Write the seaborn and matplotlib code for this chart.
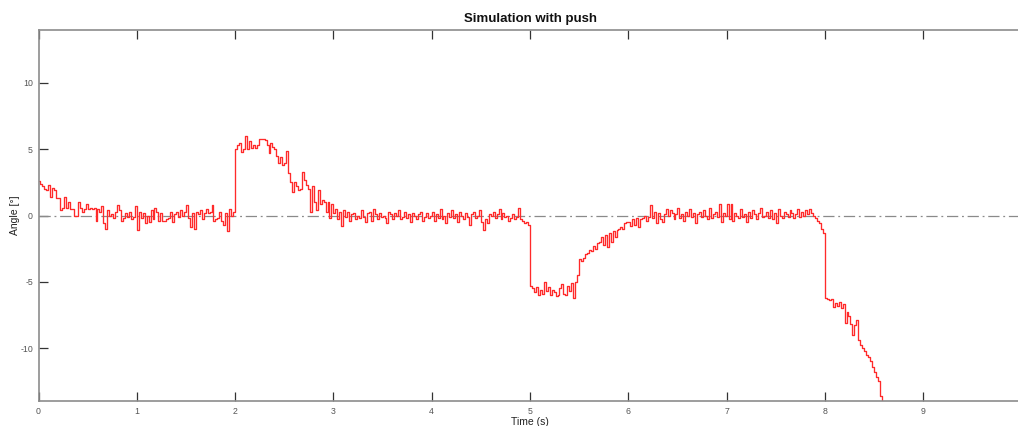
import numpy as np
import pandas as pd
import matplotlib
matplotlib.use("Agg")
import matplotlib.pyplot as plt
import seaborn as sns

# Pendulum angle sampled every 20 ms, one list per second of simulation
dt = 0.02
angle_s0 = [2.6, 2.4, 2.2, 2.0, 1.9, 2.3, 1.4, 2.1, 1.9, 1.3,
            1.3, 0.4, 0.6, 1.4, 0.6, 1.0, 0.5, 0.5, 0.0, 0.0,
            1.0, 0.6, 0.3, 0.5, 0.9, 0.5, 0.6, 0.5, 0.6, -0.4,
            0.5, 0.3, 0.7, -0.6, -1.0, 0.4, 0.0, 0.1, -0.2, 0.3,
            0.8, 0.4, -0.4, -0.2, 0.2, -0.1, 0.3, -0.3, -0.1, 0.7]
angle_s1 = [-1.1, 0.3, -0.2, 0.2, -0.6, 0.0, -0.5, 0.4, -0.3, 0.6,
            0.3, -0.4, 0.2, -0.4, -0.4, -0.3, -0.2, 0.3, -0.5, 0.1,
            0.3, -0.1, 0.4, 0.0, 0.3, 0.8, -0.2, -0.9, 0.2, -1.0,
            0.3, 0.1, 0.4, -0.3, 0.2, 0.5, 0.2, 0.3, 0.8, -0.4,
            -0.3, -0.2, 0.3, -0.4, -0.7, 0.2, -1.2, 0.5, 0.0, 0.3]
angle_s2 = [5.0, 5.3, 5.5, 4.8, 5.0, 6.0, 5.0, 5.6, 5.1, 5.3,
            5.1, 5.3, 5.8, 5.8, 5.8, 5.7, 5.3, 4.7, 5.5, 5.2,
            5.0, 4.5, 4.0, 4.4, 3.8, 4.0, 4.9, 3.2, 2.5, 1.8,
            2.5, 2.2, 1.9, 2.0, 3.3, 2.7, 2.3, 2.0, 0.3, 2.2,
            1.0, 0.4, 1.9, 0.9, 1.2, 1.0, 0.3, 1.0, -0.2, 0.9]
angle_s3 = [0.2, 0.5, -0.3, 0.3, -0.8, 0.4, -0.1, 0.3, -0.4, 0.1,
            0.2, -0.3, 0.0, -0.2, 0.4, -0.1, -0.5, 0.2, 0.3, -0.4,
            0.5, 0.1, -0.3, 0.2, -0.1, 0.0, -0.2, -0.6, 0.3, 0.1,
            -0.3, 0.2, 0.0, 0.4, -0.3, -0.1, 0.3, -0.2, 0.1, -0.5,
            0.2, 0.0, -0.3, 0.1, 0.3, -0.4, -0.1, 0.2, -0.2, 0.0]
angle_s4 = [0.3, -0.4, 0.1, -0.2, 0.5, -0.3, 0.0, -0.6, 0.2, -0.1,
            0.4, -0.2, 0.1, -0.5, 0.3, 0.0, -0.3, 0.2, -0.1, -0.7,
            0.1, 0.3, -0.2, 0.0, 0.4, -0.5, -1.1, -0.3, -0.6, 0.1,
            0.0, 0.3, -0.2, 0.1, 0.5, -0.3, 0.2, -0.1, 0.0, -0.4,
            -0.2, 0.1, -0.3, -0.1, 0.6, -0.3, -0.4, -0.6, -0.5, -0.7]
angle_s5 = [-5.3, -5.5, -5.8, -5.4, -6.0, -5.6, -5.9, -5.0, -5.7, -5.4,
            -6.0, -5.6, -5.8, -6.1, -6.0, -5.5, -5.2, -5.9, -6.0, -5.3,
            -5.7, -5.1, -6.2, -5.0, -4.5, -3.3, -3.4, -3.2, -2.9, -2.8,
            -2.6, -2.7, -2.3, -2.5, -2.1, -2.0, -1.6, -2.2, -1.5, -2.4,
            -1.3, -2.0, -1.2, -1.6, -1.1, -1.0, -0.9, -1.0, -0.6, -0.5]
angle_s6 = [-0.5, -0.8, -0.3, -0.7, -0.2, -0.9, -0.3, -0.2, 0.0, -0.4,
            -0.1, 0.8, -0.2, 0.3, -0.6, 0.2, -0.3, -0.5, 0.1, 0.5,
            0.0, 0.4, 0.2, -0.3, 0.1, 0.6, -0.2, 0.1, -0.4, 0.3,
            0.0, 0.5, -0.1, 0.2, -0.6, 0.1, 0.3, -0.1, 0.4, 0.0,
            -0.3, 0.6, -0.2, 0.1, 0.3, -0.1, 0.9, -0.5, 0.2, 0.0]
angle_s7 = [0.9, -0.3, 0.9, -0.4, 0.2, 0.0, -0.2, 0.5, -0.1, 0.1,
            -0.5, 0.3, -0.2, 0.4, 0.1, -0.3, 0.2, 0.6, -0.1, 0.0,
            0.3, -0.2, 0.4, -0.3, 0.2, -0.6, 0.5, 0.0, -0.2, 0.3,
            0.1, -0.1, 0.4, 0.2, -0.2, 0.1, 0.5, -0.1, 0.3, 0.0,
            0.4, 0.1, 0.5, 0.2, 0.0, -0.2, -0.4, -0.6, -1.0, -1.3]
angle_s8 = [-6.2, -6.3, -6.4, -6.3, -6.9, -6.6, -6.8, -6.5, -7.0, -6.7,
            -8.1, -7.3, -7.6, -8.2, -9.0, -8.3, -7.9, -9.4, -9.8, -10.0,
            -10.2, -10.5, -10.7, -11.0, -11.4, -11.8, -12.2, -12.5, -13.6, -14.2,
            -14.8]

x_ticks = list(range(10))
y_ticks = [-10, -5, 0, 5, 10]

angle = (angle_s0 + angle_s1 + angle_s2 + angle_s3 + angle_s4
         + angle_s5 + angle_s6 + angle_s7 + angle_s8)
df = pd.DataFrame({"time": np.arange(len(angle)) * dt, "angle": angle})

sns.set_theme(style="white")
plt.rcParams["font.family"] = ["Liberation Sans", "DejaVu Sans"]

W, H = 1018, 426
fig = plt.figure(figsize=(W / 100, H / 100), dpi=100)
ax = fig.add_axes([38.5 / W, 25 / H, 983 / W, 371 / H])

# reference line at zero
ax.plot([0, 10], [0, 0], color="#8a8a8a", lw=0.9, ls=(0, (9, 3, 1.5, 3)), zorder=1)

sns.lineplot(data=df, x="time", y="angle", ax=ax, color="#ff2a2a", lw=0.95,
             drawstyle="steps-post", sort=False, zorder=2)

ax.set_xlim(0, 10)
ax.set_ylim(-14, 14)
ax.set_xticks(x_ticks)
ax.set_yticks(y_ticks)
ax.set_xticklabels([str(v) for v in x_ticks])
ax.set_yticklabels([str(v) for v in y_ticks])

for side in ["left", "top", "bottom", "right"]:
    ax.spines[side].set_color("#8c8c8c")
    ax.spines[side].set_linewidth(1.2)

ax.tick_params(axis="both", which="major", direction="in", length=6.5, width=0.9,
               color="#333333", labelsize=6.3, labelcolor="#555555",
               top=True, right=False, bottom=True, left=True, pad=4)

ax.set_title("Simulation with push", fontsize=9.5, fontweight="bold", color="#111111", pad=6)
ax.set_xlabel("Time (s)", fontsize=7.5, color="#222222", labelpad=1)
ax.set_ylabel("Angle [°]", fontsize=7.5, color="#222222", labelpad=0)

fig.savefig("out.png", dpi=100, facecolor="white")
